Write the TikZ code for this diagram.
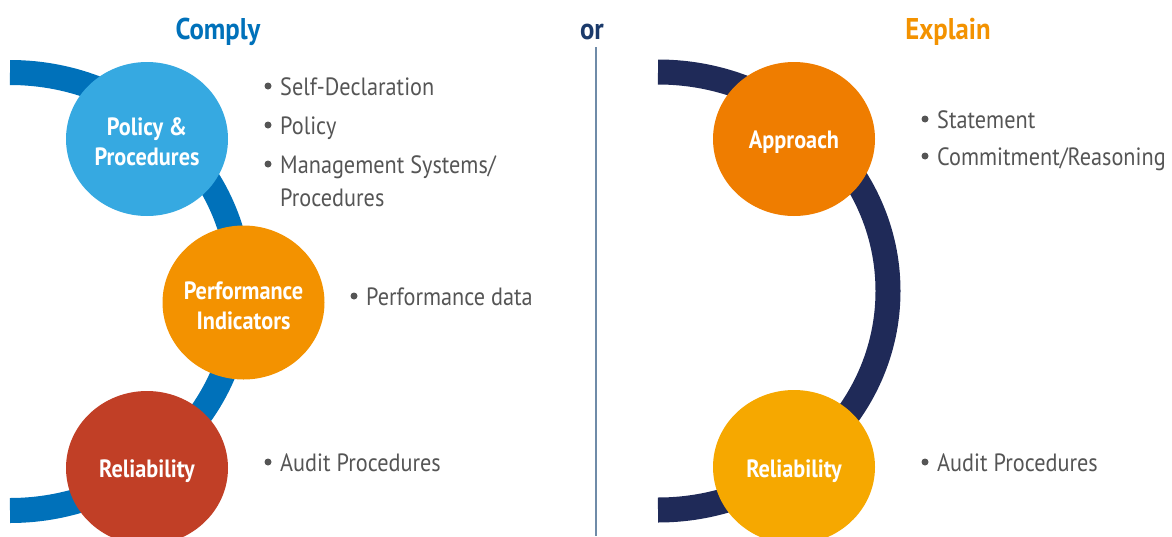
\documentclass[tikz,border=0pt]{standalone}
\usepackage{fontspec}
\setmainfont{PT Sans}[FakeStretch=0.89]
\usetikzlibrary{shapes.geometric}
\definecolor{arcblue}{HTML}{0071BA}
\definecolor{lightblue}{HTML}{36A9E1}
\definecolor{perforange}{HTML}{F39200}
\definecolor{relred}{HTML}{C13F26}
\definecolor{apporange}{HTML}{EF7D00}
\definecolor{relyellow}{HTML}{F6A800}
\definecolor{navyarc}{HTML}{1F2A58}
\definecolor{txtgray}{HTML}{555555}
\definecolor{orblue}{HTML}{1B3A6B}
\definecolor{sepline}{HTML}{6F8BA8}
\tikzset{
  bubble/.style={ellipse, minimum width=162pt, minimum height=154pt, inner sep=0pt},
  btext/.style={inner sep=0pt, text=white, align=center, font=\bfseries\fontsize{25}{30}\selectfont},
  band/.style={line width=25pt, line cap=butt},
  item/.style={anchor=base west, inner sep=0pt, text=txtgray, font=\fontsize{25}{31}\selectfont, align=left},
  dot/.style={circle, fill=txtgray, inner sep=0pt, minimum size=7pt},
  title/.style={font=\bfseries\fontsize{30}{36}\selectfont, inner sep=0pt}
}
\begin{document}
\begin{tikzpicture}[x=1pt,y=-1pt]
\useasboundingbox (0,0) rectangle (1172,536);
% titles
\node[title, text=arcblue] (comply) at (218,32) {Comply};
\node[title, text=orblue] (or) at (592,32) {or};
\node[title, text=perforange] (explain) at (948,32) {Explain};
% separator
\coordinate (septop) at (596,47);
\coordinate (sepbot) at (596,536);
\draw[sepline, line width=1.5pt] (septop) -- (sepbot);
% arcs
\draw[band, arcblue] (10,72.5) arc[start angle=-90, end angle=90, x radius=230, y radius=219];
\draw[band, navyarc] (658,72) arc[start angle=-90, end angle=90, x radius=230, y radius=219];
% left bubbles
\node[bubble, fill=lightblue] (pol) at (147,139) {};
\node[btext] (polt) at (147,142) {Policy \&\\Procedures};
\node[bubble, fill=perforange] (perf) at (243.5,302.5) {};
\node[btext] (perft) at (243.5,306) {Performance\\Indicators};
\node[bubble, fill=relred] (rel) at (147,468) {};
\node[btext] (relt) at (147,471) {Reliability};
% right bubbles
\node[bubble, fill=apporange] (app) at (794,139) {};
\node[btext] (appt) at (794,142) {Approach};
\node[bubble, fill=relyellow] (rel2) at (794,467) {};
\node[btext] (rel2t) at (794,471) {Reliability};
% left bullets
\node[dot] (d1) at (268,86) {};
\node[item] (t1) at (280,95) {Self-Declaration};
\node[dot] (d2) at (268,125) {};
\node[item] (t2) at (280,134) {Policy};
\node[dot] (d3) at (268,164) {};
\node[item] (t3) at (280,173) {Management Systems/};
\node[item] (t3b) at (280,206.5) {Procedures};
\node[dot] (d4) at (354,296) {};
\node[item] (t4) at (366,305) {Performance data};
\node[dot] (d5) at (268,462) {};
\node[item] (t5) at (280,471) {Audit Procedures};
% right bullets
\node[dot] (d6) at (925,119) {};
\node[item] (t6) at (937,128) {Statement};
\node[dot] (d7) at (925,156) {};
\node[item] (t7) at (937,165) {Commitment/Reasoning};
\node[dot] (d8) at (925,462) {};
\node[item] (t8) at (937,471) {Audit Procedures};
\end{tikzpicture}
\end{document}
